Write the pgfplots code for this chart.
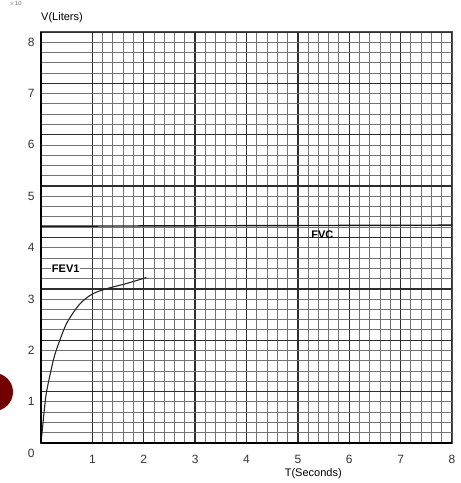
\documentclass[border=0pt]{standalone}
\usepackage{pgfplots}
\pgfplotsset{compat=1.18}
\usepackage{fontspec}
\setmainfont{Liberation Sans}
\begin{document}
\begin{tikzpicture}
\begin{axis}[
  scale only axis, width=411pt, height=411pt,
  xmin=0, xmax=8, ymin=0, ymax=8,
  xtick={1,...,8}, ytick={0,...,8},
  minor tick num=4,
  grid=both,
  minor grid style={black!55, line width=1pt},
  major grid style={black!82, line width=1.3pt},
  axis line style={black!70, line width=1pt},
  tick style={draw=none},
  /pgf/number format/assume math mode=true,
  tick label style={font=\fontsize{12}{14}\selectfont, text=black!80},
  xticklabel style={yshift=-9pt},
  yticklabel style={yshift=-10pt, xshift=-3pt},
  clip=false,
]
\addplot[black!90, line width=1.4pt] coordinates {(0,4.22) (8,4.24)};
\addplot[black!85, line width=1.1pt, smooth] coordinates {
 (0,0) (0.03,0.3) (0.06,0.6) (0.1,0.95) (0.17,1.3) (0.25,1.65) (0.33,1.9)
 (0.5,2.33) (0.75,2.7) (1.0,2.9) (1.3,3.01) (1.65,3.1) (2.05,3.22)};
\draw[black, line width=1.7pt] (axis cs:0,0) -- (axis cs:0,8);
\draw[black, line width=1.7pt] (axis cs:0,0) -- (axis cs:8,0);
\node[anchor=west, font=\fontsize{11}{13}\selectfont\bfseries, fill=white, inner sep=0.5pt] at (axis cs:0.2,3.4) {FEV1};
\node[anchor=west, font=\fontsize{11}{13}\selectfont\bfseries, inner sep=0.5pt] at (axis cs:5.25,4.05) {FVC};
\node[anchor=south west, font=\fontsize{11}{13}\selectfont, inner sep=0pt] at ([yshift=9pt]axis cs:0,8) {V(Liters)};
\node[anchor=north, font=\fontsize{11}{13}\selectfont, inner sep=0pt] at ([yshift=-25pt]axis cs:5.3,0) {T(Seconds)};
\node[anchor=north west, font=\fontsize{6}{7}\selectfont, text=black!60, inner sep=0pt] at ([xshift=-32pt,yshift=31pt]axis cs:0,8) {$\times$10};
\end{axis}
\fill[red!45!black] ([xshift=-47pt,yshift=51pt]current axis.south west) circle (19pt);
\pgfresetboundingbox
\path[use as bounding box] ([xshift=-41pt,yshift=-40pt]current axis.south west) rectangle ([xshift=8pt,yshift=32pt]current axis.north east);
\end{tikzpicture}
\end{document}
